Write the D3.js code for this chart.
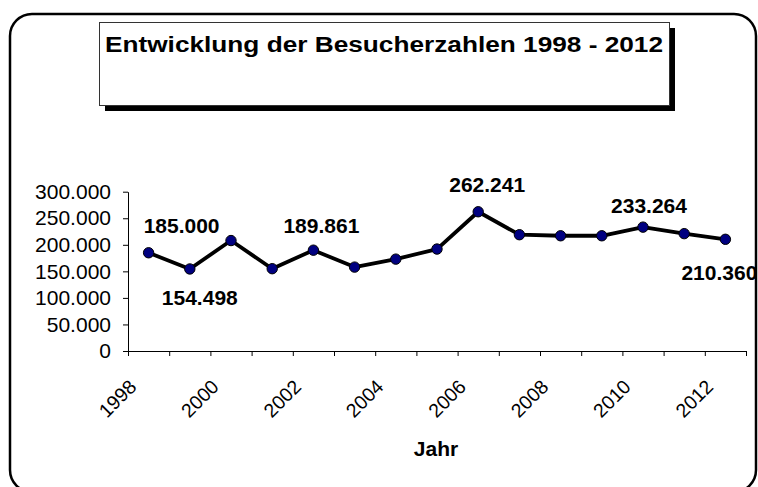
<!DOCTYPE html>
<html>
<head>
<meta charset="utf-8">
<script src="https://cdn.jsdelivr.net/npm/d3@7"></script>
<style>
  body { margin: 0; background: #fff; }
  svg { display: block; font-family: Arial, "Liberation Sans", sans-serif; }
</style>
</head>
<body>
<svg id="chart"></svg>
<script>
// Data
const years = [1998, 1999, 2000, 2001, 2002, 2003, 2004, 2005, 2006, 2007, 2008, 2009, 2010, 2011, 2012];
const visitors = [185000, 154498, 208000, 155000, 189861, 158000, 173000, 192000, 262241, 219000, 217000, 217000, 233264, 221000, 210360];
const labelledYears = [1998, 1999, 2002, 2006, 2010, 2012];
const yTicks = [0, 50000, 100000, 150000, 200000, 250000, 300000];
const xLabelYears = [1998, 2000, 2002, 2004, 2006, 2008, 2010, 2012];
const title = "Entwicklung der Besucherzahlen 1998 - 2012";
const xTitle = "Jahr";

// where each value label sits relative to its point (dx, dy of baseline)
const labelOffset = {
  1998: [33, -20], 1999: [10, 36], 2002: [8, -17],
  2006: [9, -20], 2010: [6, -14], 2012: [-6, 41]
};

const W = 758, H = 487;
const plot = { left: 128, right: 746, top: 191.7, bottom: 351 };

const de = d3.formatLocale({ decimal: ",", thousands: ".", grouping: [3], currency: ["", " €"] });
const fmt = de.format(",.0f");

const svg = d3.select("#chart").attr("width", W).attr("height", H);

// outer rounded frame
svg.append("rect")
  .attr("x", 10).attr("y", 14)
  .attr("width", 746).attr("height", 478)
  .attr("rx", 22).attr("ry", 22)
  .attr("fill", "#fff").attr("stroke", "#000").attr("stroke-width", 2.5);

// title box with shadow
svg.append("rect")
  .attr("x", 105).attr("y", 28).attr("width", 570).attr("height", 83)
  .attr("fill", "#000");
svg.append("rect")
  .attr("x", 99.5).attr("y", 22.5).attr("width", 570).attr("height", 83)
  .attr("fill", "#fff").attr("stroke", "#333").attr("stroke-width", 1);
svg.append("text")
  .attr("x", 105).attr("y", 52)
  .attr("font-size", 22).attr("font-weight", "bold")
  .attr("textLength", 558).attr("lengthAdjust", "spacingAndGlyphs")
  .text(title);

// scales
const x = d3.scaleBand().domain(years).range([plot.left, plot.right]).padding(0);
const xEdge = d3.scaleLinear().domain([0, years.length]).range([plot.left, plot.right]);
const y = d3.scaleLinear().domain([0, 300000]).range([plot.bottom, plot.top]);
const cx = d => x(d) + x.bandwidth() / 2;

// y axis
const yAxis = svg.append("g")
  .attr("transform", `translate(${plot.left},0)`)
  .call(d3.axisLeft(y).tickValues(yTicks).tickFormat(fmt).tickSize(5).tickSizeOuter(0).tickPadding(12));
yAxis.selectAll("text").attr("font-size", 21).attr("fill", "#000").attr("font-family", null);
yAxis.selectAll("line, path").attr("stroke", "#000");

// x axis: ticks on category boundaries
const xAxis = svg.append("g")
  .attr("transform", `translate(0,${plot.bottom})`)
  .call(d3.axisBottom(xEdge).tickValues(d3.range(years.length + 1)).tickFormat("").tickSize(5).tickSizeOuter(0));
xAxis.selectAll("line, path").attr("stroke", "#000");

svg.append("g").selectAll("text")
  .data(xLabelYears)
  .join("text")
  .attr("transform", d => `translate(${cx(d) - 11},${plot.bottom + 37}) rotate(-45)`)
  .attr("text-anchor", "end")
  .attr("font-size", 19.5)
  .text(d => d);

svg.append("text")
  .attr("x", (plot.left + plot.right) / 2 - 1).attr("y", 456)
  .attr("text-anchor", "middle")
  .attr("font-size", 21).attr("font-weight", "bold")
  .text(xTitle);

// series
const pts = years.map((yr, i) => ({ year: yr, value: visitors[i] }));

svg.append("path")
  .datum(pts)
  .attr("fill", "none").attr("stroke", "#000").attr("stroke-width", 3.8)
  .attr("stroke-linejoin", "round")
  .attr("d", d3.line().x(d => cx(d.year)).y(d => y(d.value)));

svg.append("g").selectAll("circle")
  .data(pts)
  .join("circle")
  .attr("cx", d => cx(d.year)).attr("cy", d => y(d.value))
  .attr("r", 5.2)
  .attr("fill", "#000080").attr("stroke", "#000").attr("stroke-width", 1);

// value labels
svg.append("g").selectAll("text")
  .data(pts.filter(d => labelledYears.includes(d.year)))
  .join("text")
  .attr("x", d => cx(d.year) + labelOffset[d.year][0])
  .attr("y", d => y(d.value) + labelOffset[d.year][1])
  .attr("text-anchor", "middle")
  .attr("font-size", 21).attr("font-weight", "bold")
  .text(d => fmt(d.value));
</script>
</body>
</html>
